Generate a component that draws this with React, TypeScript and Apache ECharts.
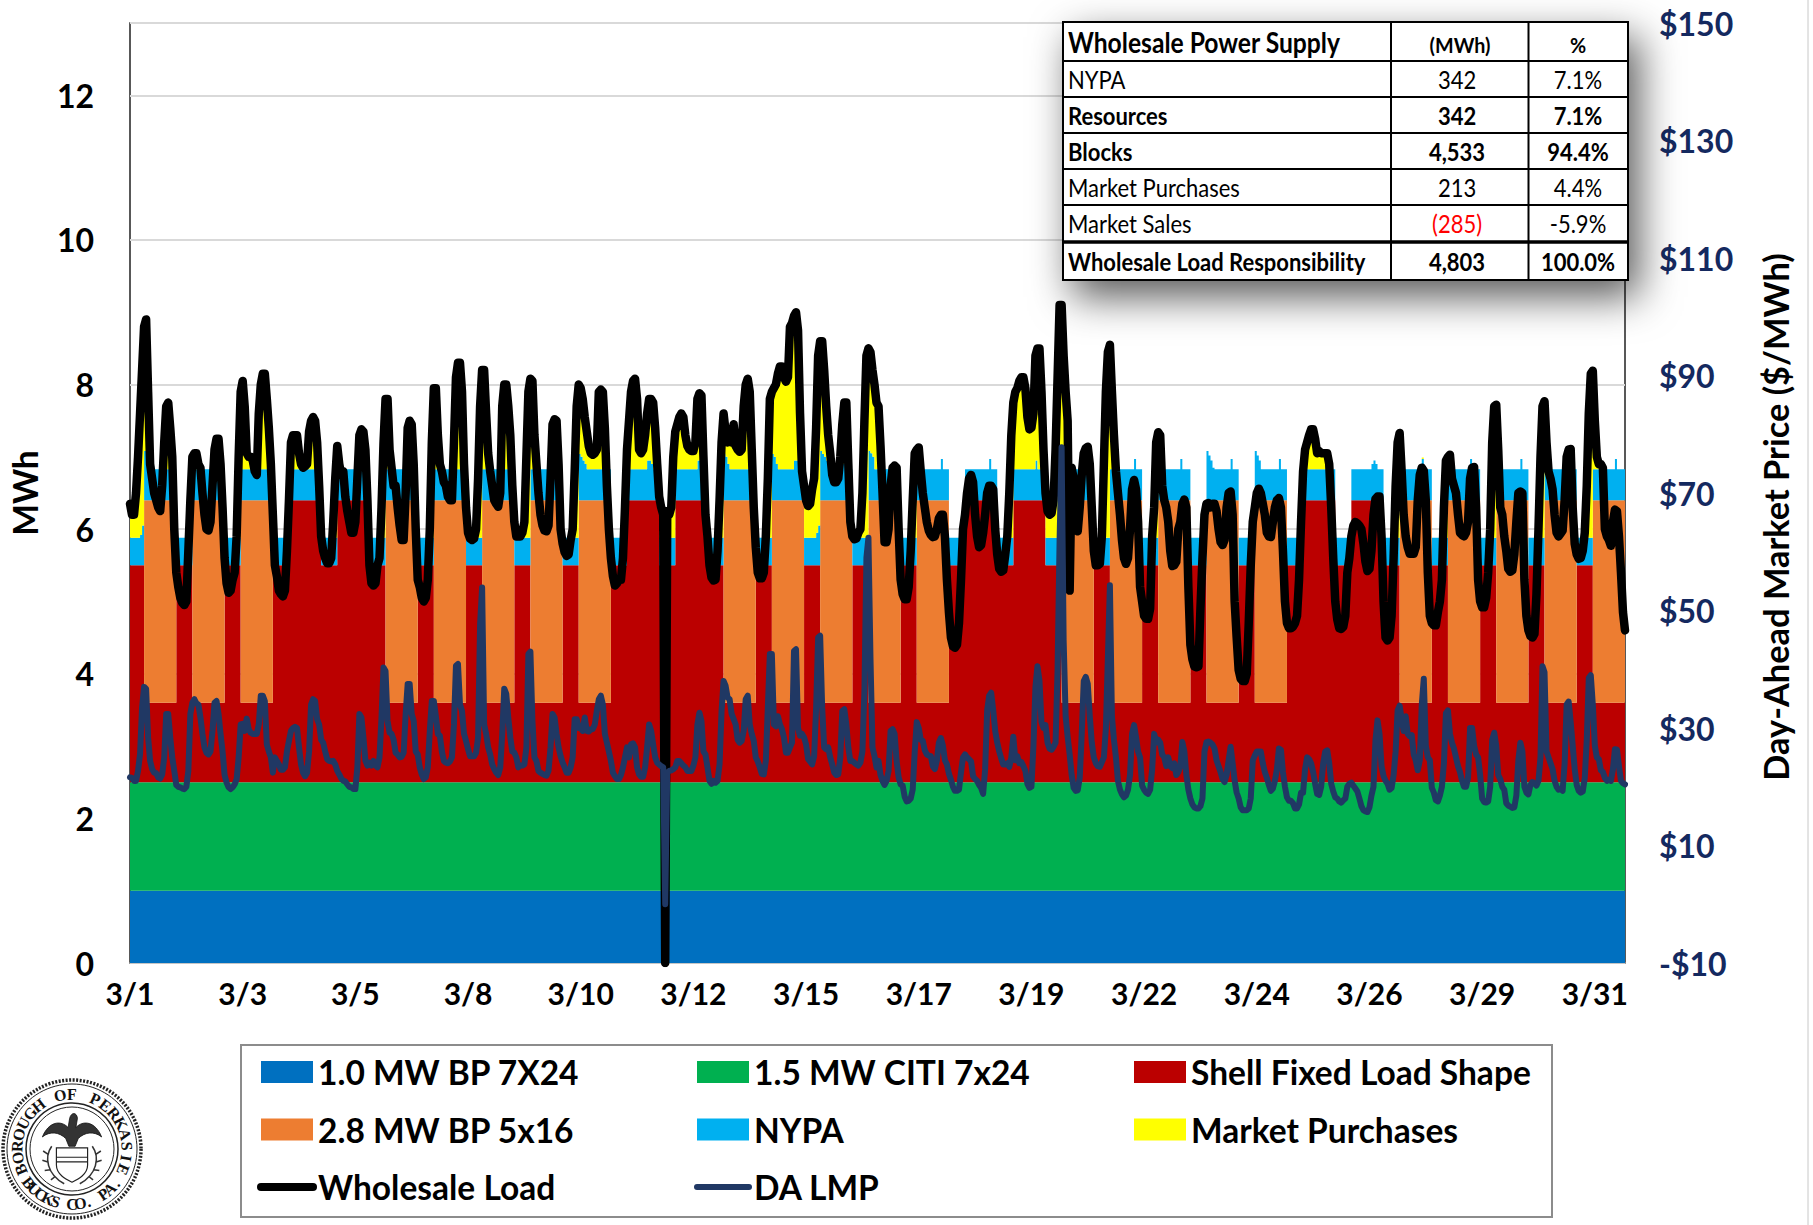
import React, { useEffect, useRef } from "react";
import * as echarts from "echarts";

const FONT = "Lato, 'Open Sans', sans-serif";

// Day-type per calendar day: W = weekday with a 2.8 MW 5x16 block, E = weekend
const dayTypes = "WWWEEWWWWWEEWWWWWEEWWWWWEEWWWWW";
// Block values, MW
const bp7x24 = 1.0;
const citi7x24 = 1.5;
const shellOffPeak = 3.0;
const shellWeekdayOnPeak = 1.1;
const shellWeekendOnPeak = 3.9;
const bp5x16 = 2.8;
const nypaOffPeak = 0.38;
const nypaOnPeak = 0.43;
// Hours where the NYPA top visibly differs from its usual level [hour, MW]
const nypaReadings = [
  [5,.42],[6,.55],[7,.68],[8,.62],[9,.58],[10,.52],[11,.47],
  [223,.64],[224,.6],[225,.55],[226,.5],[257,.55],[258,.55],[259,.5],[282,.55],[283,.55],
  [295,.64],[296,.6],[297,.5],[319,.64],[320,.6],[321,.5],[330,.55],[331,.55],
  [341,.45],[342,.55],[343,.68],[344,.64],[345,.6],[346,.55],[347,.5],[348,.45],
  [354,.5],[355,.55],[367,.68],[368,.65],[369,.6],[403,.57],[427,.57],[450,.55],
  [499,.57],[522,.57],[535,.68],[536,.62],[537,.55],[538,.45],[547,.57],
  [559,.68],[560,.62],[561,.55],[571,.57],[617,.5],[618,.55],[619,.5],
  [642,.57],[666,.57],[691,.57],[738,.57],
];
// Market purchases, hours that have any [hour, MWh]
const marketPurchaseReadings = [
  [0,.47],[1,.32],[2,.32],[3,.62],[4,1.12],[5,1.68],[6,2.15],[7,1.72],[8,1.88],[9,.92],[18,.87],[19,.92],[20,.57],[21,.17],
  [31,.17],[32,.22],[33,.22],[34,.07],[35,.02],[42,.27],[43,.42],[44,.42],[45,.07],
  [53,.02],[54,1.12],[55,1.07],[56,1.22],[57,.87],[58,.22],[59,.17],[60,.17],[61,.12],[64,.77],[65,1.17],[66,1.32],[67,1.32],[68,.97],[69,.57],[70,.07],
  [80,.37],[81,.47],[82,.47],[83,.47],[84,.22],[85,.07],[86,.02],[87,.04],[88,.07],[89,.52],[90,.67],[91,.72],[92,.67],[93,.37],[95,.02],
  [101,.22],[102,.82],[103,.32],[104,.07],[114,.47],[115,.55],[116,.52],[117,.27],
  [125,.42],[126,1.32],[127,.97],[128,.97],[129,.27],[130,.02],[138,.57],[139,.67],[140,.62],[141,.07],
  [149,.12],[150,1.32],[151,1.12],[152,1.12],[153,.47],[154,.07],[161,.37],[162,1.27],[163,1.47],[164,1.47],[165,1.07],[166,.07],[167,.42],
  [168,.07],[172,.12],[173,.82],[174,1.82],[175,1.37],[176,1.37],[177,.77],[178,.22],[185,.87],[186,1.17],[187,1.17],[188,.87],[189,.47],[191,.22],
  [192,.02],[193,.02],[194,.02],[195,.07],[196,.22],[197,1.12],[198,2.02],[199,1.25],[200,1.22],[201,.47],[202,.07],[210,.62],[211,.69],[212,.67],[213,.07],
  [220,.12],[221,.92],[222,1.82],[223,.96],[224,.95],[225,.85],[226,.65],[227,.52],[228,.32],[229,.22],[230,.2],[231,.22],[232,.27],[233,1.07],[234,1.1],[235,1.07],[236,.57],
  [246,.42],[247,.27],[248,.67],[249,1.07],[250,1.22],[251,1.25],[252,.97],[253,.27],[254,.22],[255,.27],[256,.47],[257,.65],[258,.85],[259,.9],[260,.92],[261,.57],[262,.07],[263,.57],
  [264,.42],[265,.32],[267,.37],[268,.32],[269,.42],[270,1.12],[271,.52],[272,.62],[273,.72],[274,.77],[275,.72],[276,.47],[277,.32],[278,.27],[279,.25],[280,.25],[281,.37],[282,.85],[283,.93],[284,1.02],[285,.17],[287,.02],
  [293,.52],[294,1.32],[295,.56],[296,.35],[297,.3],[298,.42],[299,.37],[300,.62],[301,.32],[302,.27],[303,.24],[304,.27],[305,.87],[306,1.17],[307,1.25],[308,1.07],[309,.27],
  [316,.02],[317,.82],[318,1.92],[319,.86],[320,.95],[321,1.1],[322,1.32],[323,1.42],[324,1.42],[325,1.27],[326,1.21],[327,1.27],[328,1.97],[329,2.02],[330,2.0],[331,2.05],[332,1.92],[333,.77],[335,.72],
  [336,.52],[337,.44],[338,.47],[339,.67],[340,.82],[341,1.45],[342,2.35],[343,1.52],[344,1.56],[345,1.2],[346,.75],[347,.4],[348,.2],[353,.17],[354,.55],[355,.8],[356,.92],[357,.07],[359,.02],
  [362,.07],[363,.12],[364,.62],[365,1.62],[366,2.52],[367,1.42],[368,1.4],[369,1.2],[370,1.17],[371,.92],[372,.87],[373,.32],[379,.02],[380,.05],[381,.02],
  [389,.52],[390,1.17],[391,.27],[392,.3],[414,.12],
  [436,.02],[437,.62],[438,1.42],[439,.92],[440,1.07],[441,1.12],[442,1.22],[443,1.27],[444,1.27],[445,1.12],[446,.72],[447,.55],[448,.57],[449,.77],[450,1.45],[451,1.67],[452,1.67],[453,1.07],[454,.27],[455,.62],
  [456,.37],[457,.32],[458,.34],[459,.52],[460,1.22],[461,2.22],[462,3.22],[463,2.27],[464,1.57],[465,1.07],[466,.67],[468,.02],[474,.22],[475,.29],[476,.31],[477,.07],
  [483,.02],[484,1.02],[485,2.02],[486,2.57],[487,1.72],[488,1.07],[489,.47],
  [508,.02],[509,.42],[510,1.32],[511,.51],[512,.47],[534,.32],[558,.22],
  [582,.22],[584,.27],[585,.37],[586,.47],[587,.55],[588,.55],[589,.42],[590,.22],[591,.25],[592,.22],[593,.22],[594,.22],[595,.22],[596,.07],
  [629,.72],[630,1.32],[631,.5],[642,.02],[653,.42],[654,1.07],[655,.17],[656,.2],[667,.02],[668,.03],
  [676,.12],[677,1.32],[678,1.82],[679,.89],[680,.27],[700,.12],[701,1.12],[702,1.82],[703,.94],[704,.37],[714,.17],[715,.27],[716,.28],
  [724,.72],[725,1.72],[726,2.27],[727,1.36],[728,.67],[729,.17],[730,.07],[731,.07],[732,.02],
];
// Hourly wholesale load, MWh, one row per day
const wholesaleLoad = [
  6.35,6.2,6.2,6.5,7.0,7.6,8.2,8.8,8.9,7.9,6.9,6.7,6.5,6.4,6.3,6.25,6.6,7.2,7.7,7.75,7.4,7.0,6.0,5.4,
  5.2,5.05,4.98,4.95,5.0,5.7,6.4,7.0,7.05,7.05,6.9,6.85,6.5,6.2,6.0,5.98,6.1,6.6,7.1,7.25,7.25,6.9,6.3,5.6,
  5.25,5.12,5.15,5.3,5.4,5.9,7.0,7.9,8.05,7.7,7.05,7.0,7.0,6.95,6.8,6.75,7.6,8.0,8.15,8.15,7.8,7.4,6.9,6.2,
  5.5,5.35,5.15,5.1,5.07,5.15,5.7,6.4,7.2,7.3,7.3,7.3,7.05,6.9,6.85,6.87,6.9,7.35,7.5,7.55,7.5,7.2,6.6,5.9,
  5.7,5.6,5.53,5.53,5.6,6.1,6.7,7.15,6.9,6.75,6.8,6.45,6.25,6.1,5.95,5.95,6.1,6.7,7.3,7.38,7.35,7.1,6.4,5.5,
  5.25,5.22,5.25,5.5,5.6,6.3,7.2,7.8,7.8,7.1,6.85,6.6,6.6,6.3,6.05,5.85,5.85,6.5,7.4,7.5,7.45,6.9,6.0,5.3,
  5.2,5.05,5.0,5.05,5.3,6.0,7.2,7.95,7.95,7.3,6.9,6.8,6.65,6.6,6.45,6.4,6.4,7.2,8.1,8.3,8.3,7.9,6.9,6.3,
  5.95,5.87,5.85,5.87,6.0,6.7,7.7,8.2,8.2,7.6,7.05,6.8,6.6,6.4,6.35,6.31,6.5,7.7,8.0,8.0,7.7,7.3,6.6,6.1,
  5.9,5.9,5.9,5.95,6.1,7.0,7.9,8.08,8.05,7.3,6.9,6.5,6.2,6.05,5.98,5.97,6.05,6.7,7.45,7.52,7.5,6.9,6.0,5.8,
  5.68,5.63,5.65,5.85,6.0,6.8,7.7,8.0,7.95,7.8,7.55,7.35,7.15,7.05,7.03,7.05,7.1,7.9,7.93,7.9,7.4,6.6,6.0,5.6,
  5.35,5.22,5.25,5.3,5.3,5.6,6.3,7.1,7.5,7.9,8.05,8.08,7.8,7.1,7.05,7.1,7.3,7.6,7.8,7.8,7.75,7.4,6.9,6.45,
  6.3,6.2,0,6.25,6.2,6.3,7.0,7.35,7.45,7.55,7.6,7.55,7.3,7.15,7.1,7.08,7.08,7.2,7.8,7.88,7.85,7.0,6.2,5.9,
  5.5,5.33,5.29,5.3,5.7,6.4,7.2,7.6,7.35,7.2,7.25,7.2,7.45,7.15,7.1,7.07,7.1,7.7,8.0,8.08,7.9,7.1,6.3,5.75,
  5.4,5.32,5.32,5.4,5.9,6.7,7.8,7.9,7.95,8.0,8.15,8.25,8.25,8.1,8.04,8.1,8.8,8.85,8.95,9.0,8.75,7.6,6.8,6.6,
  6.4,6.32,6.35,6.55,6.7,7.4,8.4,8.6,8.6,8.2,7.7,7.3,7.05,6.75,6.65,6.65,6.7,7.0,7.45,7.75,7.75,6.9,6.1,5.9,
  5.86,5.87,5.95,6.0,6.5,7.5,8.4,8.5,8.45,8.2,8.0,7.75,7.7,7.15,6.5,5.82,5.82,6.0,6.6,6.85,6.88,6.85,6.0,5.3,
  5.1,5.03,5.03,5.2,5.7,6.4,7.05,7.1,7.13,6.8,6.5,6.3,6.1,5.98,5.92,5.89,5.9,6.0,6.15,6.2,6.2,5.9,5.3,4.85,
  4.5,4.38,4.36,4.4,4.7,5.3,6.0,6.2,6.5,6.7,6.75,6.65,6.2,5.9,5.75,5.78,5.95,6.2,6.5,6.6,6.6,6.55,6.0,5.65,
  5.45,5.41,5.43,5.65,5.9,6.5,7.3,7.75,7.9,7.95,8.05,8.1,8.1,7.95,7.55,7.38,7.4,7.6,8.4,8.5,8.5,7.9,7.1,6.5,
  6.25,6.2,6.22,6.4,7.1,8.1,9.1,9.1,8.4,7.9,7.5,5.15,6.85,6.7,6.05,5.97,6.3,6.75,7.05,7.12,7.14,6.9,6.3,5.7,
  5.5,5.5,5.52,5.9,6.9,7.9,8.45,8.55,7.9,7.3,6.8,6.5,6.2,5.85,5.6,5.52,5.6,6.0,6.55,6.68,6.55,6.1,5.2,5.0,
  4.8,4.76,4.76,4.9,5.9,6.3,7.2,7.34,7.3,6.6,6.4,6.3,6.1,5.7,5.49,5.5,5.55,6.0,6.1,6.35,6.41,6.3,5.2,4.4,
  4.2,4.1,4.09,4.1,4.9,5.6,6.2,6.35,6.36,6.3,6.35,6.35,6.25,6.0,5.82,5.78,5.85,6.3,6.5,6.52,6.2,5.0,4.5,4.05,
  3.93,3.9,3.9,4.0,4.7,5.5,6.1,6.3,6.5,6.56,6.5,6.35,6.2,5.95,5.9,5.89,6.1,6.3,6.4,6.43,6.3,5.7,5.0,4.7,
  4.63,4.63,4.65,4.7,4.8,5.3,6.1,6.8,7.1,7.2,7.3,7.38,7.38,7.25,7.05,7.08,7.05,7.05,7.05,7.05,6.9,6.3,5.6,5.0,
  4.75,4.63,4.62,4.65,4.8,5.4,5.6,5.9,6.05,6.1,6.08,6.05,6.0,5.8,5.55,5.42,5.45,5.7,6.2,6.42,6.45,6.45,5.9,5.0,
  4.5,4.46,4.5,4.8,5.6,6.6,7.2,7.33,6.8,6.2,5.9,5.75,5.66,5.66,5.66,5.75,6.4,6.75,6.85,6.81,6.4,5.4,4.8,4.7,
  4.67,4.67,4.85,5.0,5.3,6.3,6.95,7.0,7.03,6.7,6.6,6.5,6.2,5.95,5.92,5.9,5.95,6.1,6.7,6.85,6.86,6.3,5.3,5.0,
  4.92,4.92,5.05,5.4,6.0,7.2,7.7,7.72,7.1,6.3,6.2,5.9,5.7,5.45,5.41,5.43,5.65,6.1,6.5,6.52,6.5,5.3,4.8,4.6,
  4.52,4.5,4.55,5.1,6.0,7.0,7.7,7.77,7.2,6.8,6.7,6.55,6.2,5.95,5.9,5.94,5.98,6.4,7.0,7.1,7.11,6.3,5.8,5.65,
  5.59,5.6,5.7,5.95,6.6,7.6,8.15,8.19,7.5,7.0,6.9,6.9,6.85,6.0,5.9,5.85,5.77,6.1,6.27,6.25,5.9,5.4,4.85,4.6,
];
// Hourly day-ahead LMP, $/MWh, one row per day
const daLmp = [
  21.6,21.5,21,21,22.7,25.6,33.5,37,36.7,28.4,24.4,23,22.4,22.3,21.6,21.4,22.1,25,32.4,32.4,28.4,25,22.7,20.3,
  20,19.9,19.7,19.6,20,22.7,32.4,34.3,34.9,34.2,34,31.8,29,26.7,25.8,25.5,26,29.5,34.3,34.6,32.4,29,26,22,
  20.7,19.9,19.6,19.9,20.4,21.3,25,30.6,30.7,29.5,31.6,29.8,29.2,29,29,29,30.6,35.5,35.5,34.6,27.2,26,25,22.4,
  25,24.4,23.8,22.9,22.9,23.3,26,27.8,29.5,30,30.2,30,26.7,23.8,22.4,21.8,22.4,26,34,34.9,34.6,31.5,30.6,28,
  27.5,26,24.7,24.4,24.3,24.4,23.8,22.7,22.1,21.4,21,20.9,20.4,20,19.9,19.6,19.6,23.3,32.4,31.8,28.4,24.4,23.6,24.1,
  23.6,24.4,23.6,23.3,25,31.8,40.3,39.7,31.2,29.2,29,28,25.8,25.5,25,25.1,25.8,32.4,37.5,37.5,32.4,31.2,26,25.5,
  23.3,22.1,21.3,21.6,23.3,29.5,34.6,34.6,32,29,28.7,26,24.4,24.1,24,24.3,25,30.6,40.6,40.9,34,32.9,29,27.8,
  26.4,25.2,25.2,25.2,25.8,28.4,47.7,53.9,30.6,29,26.7,25.5,23.8,23,22.4,22,23.3,29,36.7,35.8,31.8,28.4,26,25.8,
  25,23.3,23.6,23.6,23.8,26.7,42.6,43,31.2,25,24.4,22.7,22.4,22.2,22,21.9,22.7,26.7,32.4,31.8,29,26.7,25.2,24.1,
  23.3,22.4,22.4,23.3,25,31.5,31.5,30,30,29.5,31.8,29.5,29.4,29.8,29.8,30.6,32.9,34.9,35.5,34,29,27.5,26,24.4,
  22.4,21.8,21.3,21.3,22,23.3,25,26.7,25,27.2,27.4,26.7,23.3,22.1,21.7,21.7,23.3,26.7,30.6,29.5,27.2,25,24.1,23.8,
  23.5,23.3,0,22.4,22.7,22.8,23,23.3,24.4,24.4,24,23.6,23.3,22.7,22.7,22.7,23.6,25,30.6,32.6,31.2,26,25.5,23.3,
  21,20.5,21,20.7,21,23.8,32.9,38,37.2,35.2,34.9,32.4,31.5,30.6,28,27.5,27.8,29.5,34.9,35.5,30.6,29,27.8,25,
  24.3,23.3,22.2,22.1,24.4,33.5,42.6,42.6,30.6,30.3,32,30.6,29.8,28.4,25.8,25.8,26.7,27.5,43.1,43.4,30,28.7,29,28.4,
  27.2,24.7,24.3,23.8,25.2,33.5,45.4,45.7,33.5,26.7,26.4,26.7,25,23.8,22.4,22,22.1,25,32.9,33.2,30.6,26.7,24.4,24.4,
  24.1,23.8,23.6,24.1,26,36.3,59,62.4,42,26.7,25.2,23.3,24.4,22,21,20.3,21,22.7,29.5,29.8,29,24.4,21.6,20.4,
  20.2,18.3,17.5,17.6,18,19.5,26,31,30,28,27.8,26.2,25.5,25.3,25.2,23.5,23,24.5,27.5,28.3,27,24.5,23.8,22.2,
  21.2,20,19.3,19.3,19.5,22.5,25,25.5,25,24.7,24.3,21.8,21.3,21,20.3,19.8,18.8,23,33,35.5,36,33,29.5,27.5,
  26,24.8,23.8,23.8,24,23.4,25,28.5,24.5,25.2,24,24.2,23.5,22.7,20.5,19.8,20,27,37,40.5,38,31,30,30.5,
  27.5,26.5,26.3,26.8,27.5,40,62,77.8,45,32,28.5,25.5,22,19.8,19.3,19.4,21.5,29,38,38.7,37.5,32,27.5,25,
  24,23.5,23.4,24.2,25,30,42,54.3,32,28,25,21,19.5,18.7,18.2,18.5,19.5,22,29,30.5,28.4,26,25,20.2,
  19.5,19,18.8,19.5,23,29,27.5,28,27.5,25.5,25,23.5,25,23.5,23.2,24,22,22.5,23.5,27.6,26,22,19.5,18,
  17,16.5,16.3,16.3,16.7,18,26,27.6,27.7,27.5,27.2,26.5,24.5,23.5,22.5,21.3,20.8,22,24.5,26.8,24,21,19,18,
  16.5,16,16,16,16.3,18,24.5,25.3,26,26,26,24,22.5,21.5,20.3,19.3,19.7,21,23,26.5,26.3,22.5,20,18.2,
  17.6,17.6,17.2,16.3,16.3,17,19,19,23,25,24.7,24,22.5,20.5,18.8,18.6,20,24,26,26.2,24,20.5,19.2,18.2,
  18,17.5,17.3,17.7,18,20,20.5,20.7,20.2,19.7,19.2,18,16.7,16,15.8,15.7,16.5,18.5,20,28,31.3,29,23.5,21.8,
  21,20.5,19.5,19.8,22,26,33,33.8,31.5,29.5,32,29,28.6,28.8,25.5,24.5,22.8,24.5,34,38.4,27,25,24.5,19.8,
  19,17.7,17.5,18.5,20,24,32.5,33,29,27.5,26.5,25,23.5,22.5,21,20,20,21.5,30,30,27,25.5,25,22,
  18,17.4,17.3,17.5,20,28,29.2,27,22,21.3,20,19.5,17.2,16.8,16.6,16.4,16.5,18.5,24.5,27.5,26,20,19,18.7,
  20.3,20.8,20.6,20.2,21,25,40.5,39.5,26,25,24,23,21,20,19.5,19.6,19.3,24,34,34.5,31,27,23,20.3,
  19.3,19,19.2,21.5,28,38.5,39,34,27,25,24.7,22.8,22.5,21.5,21,21.2,21,23,26.4,26.3,23.5,21,20.6,20.4,
];
const priceTickLabels = [-10, 10, 30, 50, 70, 90, 110, 130, 150];
const tableHeader = ["Wholesale Power Supply", "(MWh)", "%"];
const tableRows = [
  { label: "NYPA", mwh: "342", pct: "7.1%", bold: false },
  { label: "Resources", mwh: "342", pct: "7.1%", bold: true },
  { label: "Blocks", mwh: "4,533", pct: "94.4%", bold: true },
  { label: "Market Purchases", mwh: "213", pct: "4.4%", bold: false },
  { label: "Market Sales", mwh: "(285)", pct: "-5.9%", bold: false },
  { label: "Wholesale Load Responsibility", mwh: "4,803", pct: "100.0%", bold: true },
];

const categories: string[] = [];
const isOnPeak: boolean[] = [];
const isWeekday: boolean[] = [];
for (let d = 0; d < dayTypes.length; d++) {
  for (let h = 0; h < 24; h++) {
    categories.push(`3/${d + 1}`);
    isOnPeak.push(h >= 7 && h <= 22);
    isWeekday.push(dayTypes[d] === "W");
  }
}
const bpSeries = categories.map(() => bp7x24);
const citiSeries = categories.map(() => citi7x24);
const shellSeries = categories.map((_, i) =>
  !isOnPeak[i] ? shellOffPeak : isWeekday[i] ? shellWeekdayOnPeak : shellWeekendOnPeak
);
const bp5x16Series = categories.map((_, i) => (isOnPeak[i] && isWeekday[i] ? bp5x16 : 0));
const nypaSeries = categories.map((_, i) => (isOnPeak[i] ? nypaOnPeak : nypaOffPeak));
nypaReadings.forEach(([h, v]) => (nypaSeries[h] = v));
const marketSeries = categories.map(() => 0);
marketPurchaseReadings.forEach(([h, v]) => (marketSeries[h] = v));

const sealEagle =
  "M-38,-18 C-30,-38 -14,-40 -5,-30 L-3,-42 C-1,-50 6,-50 7,-42 L5,-30 C14,-40 30,-38 38,-18 C28,-26 16,-24 8,-16 L4,-6 L-4,-6 L-8,-16 C-16,-24 -28,-26 -38,-18 Z";
const sealShield =
  "M-20,-4 L20,-4 L20,18 C20,30 8,36 0,40 C-8,36 -20,30 -20,18 Z M-20,8 L20,8 M-20,14 L20,14";
const sealWreath =
  "M-26,-6 C-36,8 -32,30 -10,42 M26,-6 C36,8 32,30 10,42 M-31,4 L-37,0 M-31,14 L-38,12 M-28,24 L-35,25 M-22,33 L-27,37 M31,4 L37,0 M31,14 L38,12 M28,24 L35,25 M22,33 L27,37";
echarts.graphic.registerShape("sealEagle", echarts.graphic.extendPath(sealEagle, {}) as any);
echarts.graphic.registerShape("sealShield", echarts.graphic.extendPath(sealShield, {}) as any);
echarts.graphic.registerShape("sealWreath", echarts.graphic.extendPath(sealWreath, {}) as any);

function arcChars(text: string, cx: number, cy: number, r: number, fromDeg: number, toDeg: number, bottom: boolean) {
  const n = text.length;
  return text.split("").map((ch, i) => {
    const a = ((fromDeg + ((toDeg - fromDeg) * i) / (n - 1)) * Math.PI) / 180;
    return {
      type: "text",
      x: cx + r * Math.sin(a),
      y: bottom ? cy + r * Math.cos(a) : cy - r * Math.cos(a),
      rotation: bottom ? a : -a,
      z: 5,
      style: {
        text: ch,
        fill: "#111",
        font: "bold 16px 'Liberation Serif', serif",
        align: "center",
        verticalAlign: "middle",
      },
    };
  });
}

function sealElements() {
  const cx = 72;
  const cy = 1149;
  const ring = (r: number, w: number, dash?: number[]) => ({
    type: "circle",
    shape: { cx, cy, r },
    style: { fill: "none", stroke: "#222", lineWidth: w, lineDash: dash },
    z: 5,
  });
  const drawn = (type: string, fill: string, stroke: string, lineWidth: number) => ({
    type,
    x: cx,
    y: cy + 2,
    scaleX: 0.78,
    scaleY: 0.78,
    z: 5,
    style: { fill, stroke, lineWidth },
  });
  return [
    ring(69, 3.5, [2, 1.5]),
    ring(65, 1),
    ring(46, 1.5),
    ring(42, 1),
    drawn("sealEagle", "#333", "#111", 1),
    drawn("sealShield", "#fff", "#222", 1.5),
    drawn("sealWreath", "none", "#333", 2),
    ...arcChars("BOROUGH OF PERKASIE", cx, cy, 55, -112, 112, false),
    ...arcChars("BUCKS CO. PA.", cx, cy, 55, -52, 52, true),
  ];
}

function tableElements() {
  const left = 1063;
  const right = 1628;
  const top = 22;
  const bottom = 280;
  const colA = 1391;
  const colB = 1528.5;
  const rowLines = [61, 97, 133, 169, 205];
  const rowCenters = [79, 115, 151, 187, 223.5, 261];
  const textX = 1068;
  const midA = 1457;
  const midB = 1578;
  const txt = (text: string, x: number, y: number, size: number, bold: boolean, align: string, fill = "#000", sx = 0.88) => ({
    type: "text",
    x,
    y,
    scaleX: sx,
    z: 21,
    style: {
      text,
      fill,
      font: `${bold ? 700 : 400} ${size}px ${FONT}`,
      align,
      verticalAlign: "middle",
    },
  });
  const hline = (y: number, w: number) => ({
    type: "line",
    shape: { x1: left, y1: y, x2: right, y2: y },
    style: { stroke: "#000", lineWidth: w },
    z: 20,
  });
  const vline = (x: number) => ({
    type: "line",
    shape: { x1: x, y1: top, x2: x, y2: bottom },
    style: { stroke: "#000", lineWidth: 2 },
    z: 20,
  });
  const items: any[] = [
    {
      type: "rect",
      shape: { x: left, y: top, width: right - left, height: bottom - top },
      style: {
        fill: "#fff",
        stroke: "#000",
        lineWidth: 2,
        shadowBlur: 40,
        shadowColor: "rgba(0,0,0,0.65)",
        shadowOffsetX: 10,
        shadowOffsetY: 16,
      },
      z: 19,
    },
    ...rowLines.map((y) => hline(y, 2)),
    hline(242, 3.5),
    vline(colA),
    vline(colB),
    txt(tableHeader[0], textX, 42, 29, true, "left", "#000", 0.85),
    txt(tableHeader[1], 1460, 45, 21, true, "center", "#000", 0.94),
    txt(tableHeader[2], midB, 45, 21, true, "center", "#000", 0.94),
  ];
  tableRows.forEach((r, i) => {
    const y = rowCenters[i];
    items.push(txt(r.label, textX, y, 25, r.bold, "left"));
    items.push(txt(r.mwh, midA, y, 25, r.bold, "center", r.mwh.startsWith("(") ? "#ff0000" : "#000"));
    items.push(txt(r.pct, midB, y, 25, r.bold, "center"));
  });
  return items;
}

function areaSeries(name: string, color: string, data: number[]) {
  return {
    name,
    type: "line",
    stack: "supply",
    step: "end",
    data,
    symbol: "none",
    silent: true,
    color,
    itemStyle: { color },
    lineStyle: { width: 0, color },
    areaStyle: { color, opacity: 1 },
    z: 2,
  };
}

export default function App() {
  const ref = useRef<HTMLDivElement>(null);
  useEffect(() => {
    if (!ref.current) return;
    const chart = echarts.init(ref.current, undefined, { renderer: "svg" });
    const legendBase = {
      orient: "vertical",
      top: 1055,
      padding: 0,
      itemWidth: 52,
      itemHeight: 22,
      itemGap: 23.5,
      selectedMode: false,
      textStyle: { fontFamily: FONT, fontWeight: 700, fontSize: 33.5, color: "#000" },
    };
    chart.setOption({
      animation: false,
      backgroundColor: "#fff",
      grid: {
        left: 128,
        right: 188,
        top: 23,
        bottom: 262,
        show: true,
        borderColor: "#222",
        borderWidth: 1.5,
        containLabel: false,
      },
      legend: [
        {
          ...legendBase,
          left: 257,
          data: [
            { name: "1.0 MW BP 7X24", icon: "rect" },
            { name: "2.8 MW BP 5x16", icon: "rect" },
            {
              name: "Wholesale Load",
              itemStyle: { opacity: 0 },
              lineStyle: { width: 8, color: "#000", cap: "round" },
            },
          ],
        },
        {
          ...legendBase,
          left: 694,
          data: [
            { name: "1.5 MW CITI 7x24", icon: "rect" },
            { name: "NYPA", icon: "rect" },
            {
              name: "DA LMP",
              itemStyle: { opacity: 0 },
              lineStyle: { width: 6, color: "#203864", cap: "round" },
            },
          ],
        },
        {
          ...legendBase,
          left: 1134,
          data: [
            { name: "Shell Fixed Load Shape", icon: "rect" },
            { name: "Market Purchases", icon: "rect" },
          ],
        },
      ],
      xAxis: {
        type: "category",
        data: categories,
        boundaryGap: false,
        axisLine: { show: true, lineStyle: { color: "#bfbfbf", width: 1.5 } },
        axisTick: { show: false },
        axisLabel: {
          interval: 55,
          margin: 15,
          fontFamily: FONT,
          fontWeight: 700,
          fontSize: 30,
          color: "#000",
        },
        splitLine: { show: false },
      },
      yAxis: [
        {
          type: "value",
          min: 0,
          max: 13,
          interval: 2,
          name: "MWh",
          nameLocation: "middle",
          nameGap: 88,
          nameTextStyle: { fontFamily: FONT, fontWeight: 700, fontSize: 33.5, color: "#000" },
          axisLine: { show: false },
          axisTick: { show: false },
          axisLabel: {
            margin: 36,
            showMaxLabel: false,
            fontFamily: FONT,
            fontWeight: 700,
            fontSize: 32,
            color: "#000",
          },
          splitLine: { show: true, lineStyle: { color: "#d9d9d9", width: 2 } },
        },
        {
          type: "value",
          min: -10,
          max: 150,
          name: "Day-Ahead Market Price ($/MWh)",
          nameLocation: "middle",
          nameRotate: 90,
          nameGap: 133,
          nameTextStyle: {
            fontFamily: FONT,
            fontWeight: 700,
            fontSize: 34.4,
            color: "#000",
            padding: [0, 48, 0, 0],
          },
          axisLine: { show: false },
          axisTick: { show: false },
          axisLabel: {
            customValues: priceTickLabels,
            margin: 34,
            fontFamily: FONT,
            fontWeight: 700,
            fontSize: 32,
            color: "#14295f",
            formatter: (v: number) => (v < 0 ? `-$${-v}` : `$${v}`),
          },
          splitLine: { show: false },
        },
      ],
      series: [
        areaSeries("1.0 MW BP 7X24", "#0070c0", bpSeries),
        areaSeries("1.5 MW CITI 7x24", "#00b050", citiSeries),
        areaSeries("Shell Fixed Load Shape", "#bb0000", shellSeries),
        areaSeries("2.8 MW BP 5x16", "#ed7d31", bp5x16Series),
        areaSeries("NYPA", "#00b0f0", nypaSeries),
        areaSeries("Market Purchases", "#ffff00", marketSeries),
        {
          name: "Wholesale Load",
          type: "line",
          data: wholesaleLoad,
          symbol: "none",
          silent: true,
          color: "#000",
          lineStyle: { color: "#000", width: 8.5, cap: "round", join: "round" },
          z: 3,
        },
        {
          name: "DA LMP",
          type: "line",
          yAxisIndex: 1,
          data: daLmp,
          symbol: "none",
          silent: true,
          color: "#203864",
          lineStyle: { color: "#203864", width: 6, cap: "round", join: "round" },
          z: 4,
        },
      ],
      graphic: {
        elements: [
          {
            type: "rect",
            shape: { x: 241, y: 1045, width: 1311, height: 172 },
            style: { fill: "none", stroke: "#8c8c8c", lineWidth: 2 },
            z: 1,
          },
          {
            type: "line",
            shape: { x1: 1808, y1: 0, x2: 1808, y2: 1225 },
            style: { stroke: "#c8c8c8", lineWidth: 1 },
            z: 1,
          },
          ...sealElements(),
          ...tableElements(),
        ],
      },
    } as any);
    return () => chart.dispose();
  }, []);
  return (
    <div
      ref={ref}
      style={{ position: "fixed", left: 0, top: 0, width: 1813, height: 1225, background: "#fff" }}
    />
  );
}
